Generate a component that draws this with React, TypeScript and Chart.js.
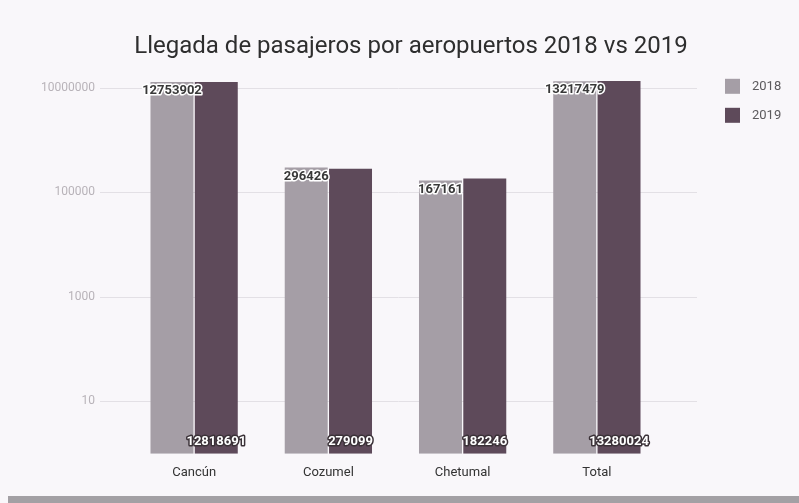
import React, { useEffect, useRef } from "react";
import { Chart, registerables } from "chart.js";

Chart.register(...registerables);

const categories = ["Cancún", "Cozumel", "Chetumal", "Total"];
const seriesLabels = ["2018", "2019"];
const values2018 = [12753902, 296426, 167161, 13217479];
const values2019 = [12818691, 279099, 182246, 13280024];
const yTickValues = [10, 1000, 100000, 10000000];
const titleText = "Llegada de pasajeros por aeropuertos 2018 vs 2019";
const seriesColors = ["#a59ea6", "#5e4a5a"];

const gridPlugin = {
  id: "extendedGrid",
  beforeDatasetsDraw(chart: any) {
    const { ctx, chartArea } = chart;
    const y = chart.scales.y;
    ctx.save();
    ctx.strokeStyle = "#e3e0e5";
    ctx.lineWidth = 1;
    y.ticks.forEach((t: any) => {
      const py = Math.round(y.getPixelForValue(t.value)) + 0.5;
      ctx.beginPath();
      ctx.moveTo(chartArea.left - 27, py);
      ctx.lineTo(chartArea.right + 33, py);
      ctx.stroke();
    });
    ctx.restore();
  },
};

const valueLabelPlugin = {
  id: "valueLabels",
  afterDatasetsDraw(chart: any) {
    const { ctx } = chart;
    ctx.save();
    ctx.font = "bold 13px Roboto";
    ctx.textAlign = "center";
    ctx.textBaseline = "middle";
    ctx.lineJoin = "round";
    ctx.lineWidth = 3;
    chart.data.datasets.forEach((ds: any, di: number) => {
      const meta = chart.getDatasetMeta(di);
      meta.data.forEach((bar: any, i: number) => {
        const { x, y, base } = bar.getProps(["x", "y", "base"], true);
        const txt = String(ds.data[i]);
        let ty: number;
        if (di === 0) {
          ty = y + 9;
          ctx.strokeStyle = "#ffffff";
          ctx.fillStyle = "#383838";
        } else {
          ty = base - 12;
          ctx.strokeStyle = "#3a3137";
          ctx.fillStyle = "#ffffff";
        }
        ctx.strokeText(txt, x, ty);
        ctx.fillText(txt, x, ty);
      });
    });
    ctx.restore();
  },
};

const legendPlugin = {
  id: "sideLegend",
  afterDraw(chart: any) {
    const { ctx, chartArea } = chart;
    ctx.save();
    ctx.font = "13px Roboto";
    ctx.textAlign = "left";
    ctx.textBaseline = "middle";
    chart.data.datasets.forEach((ds: any, i: number) => {
      const bx = chartArea.right + 61;
      const by = chartArea.top + 7 + i * 29;
      ctx.fillStyle = ds.backgroundColor;
      ctx.fillRect(bx, by, 15, 15);
      ctx.fillStyle = "#5c5a5d";
      ctx.fillText(ds.label, bx + 27, by + 8);
    });
    ctx.restore();
  },
};

export default function App() {
  const canvasRef = useRef<HTMLCanvasElement | null>(null);

  useEffect(() => {
    if (!canvasRef.current) return;
    const chart = new Chart(canvasRef.current, {
      type: "bar",
      data: {
        labels: categories,
        datasets: [
          {
            label: seriesLabels[0],
            data: values2018,
            backgroundColor: seriesColors[0],
            barPercentage: 0.97,
            categoryPercentage: 0.66,
          },
          {
            label: seriesLabels[1],
            data: values2019,
            backgroundColor: seriesColors[1],
            barPercentage: 0.97,
            categoryPercentage: 0.66,
          },
        ],
      },
      options: {
        animation: false,
        responsive: true,
        maintainAspectRatio: false,
        layout: { padding: { left: 23, right: 0, top: 0, bottom: 0 } },
        plugins: {
          legend: { display: false },
          tooltip: { enabled: false },
          title: {
            display: true,
            text: titleText,
            color: "#2e2e2e",
            font: { family: "Roboto", size: 24, weight: "normal" },
            padding: { top: 33, bottom: 10 },
          },
        },
        scales: {
          x: {
            grid: { display: false, drawTicks: false },
            border: { display: false },
            ticks: {
              color: "#333333",
              font: { family: "Roboto", size: 13 },
              padding: 11,
            },
          },
          y: {
            type: "logarithmic",
            position: "left",
            min: 1,
            max: 20000000,
            grid: { display: false, drawTicks: false },
            border: { display: false },
            afterBuildTicks: (s: any) => {
              s.ticks = yTickValues.map((v) => ({ value: v }));
            },
            afterFit: (s: any) => {
              s.width = 104;
            },
            ticks: {
              color: "#b8b3b9",
              font: { family: "Roboto", size: 12 },
              padding: 32,
              callback: (v: any) => String(v),
            },
          },
          y2: {
            type: "linear",
            position: "right",
            display: true,
            grid: { display: false, drawTicks: false },
            border: { display: false },
            ticks: { display: false },
            afterFit: (s: any) => {
              s.width = 135;
            },
          },
        },
      } as any,
      plugins: [gridPlugin, valueLabelPlugin, legendPlugin],
    });
    return () => chart.destroy();
  }, []);

  return (
    <div
      style={{
        position: "absolute",
        left: 0,
        top: 0,
        width: 799,
        height: 503,
        background: "#f9f7fa",
        overflow: "hidden",
      }}
    >
      <div style={{ position: "relative", width: 799, height: 493 }}>
        <canvas ref={canvasRef} />
      </div>
      <div
        style={{
          position: "absolute",
          left: 8,
          right: 0,
          bottom: 0,
          height: 7,
          background: "#a3a0a4",
        }}
      />
    </div>
  );
}
